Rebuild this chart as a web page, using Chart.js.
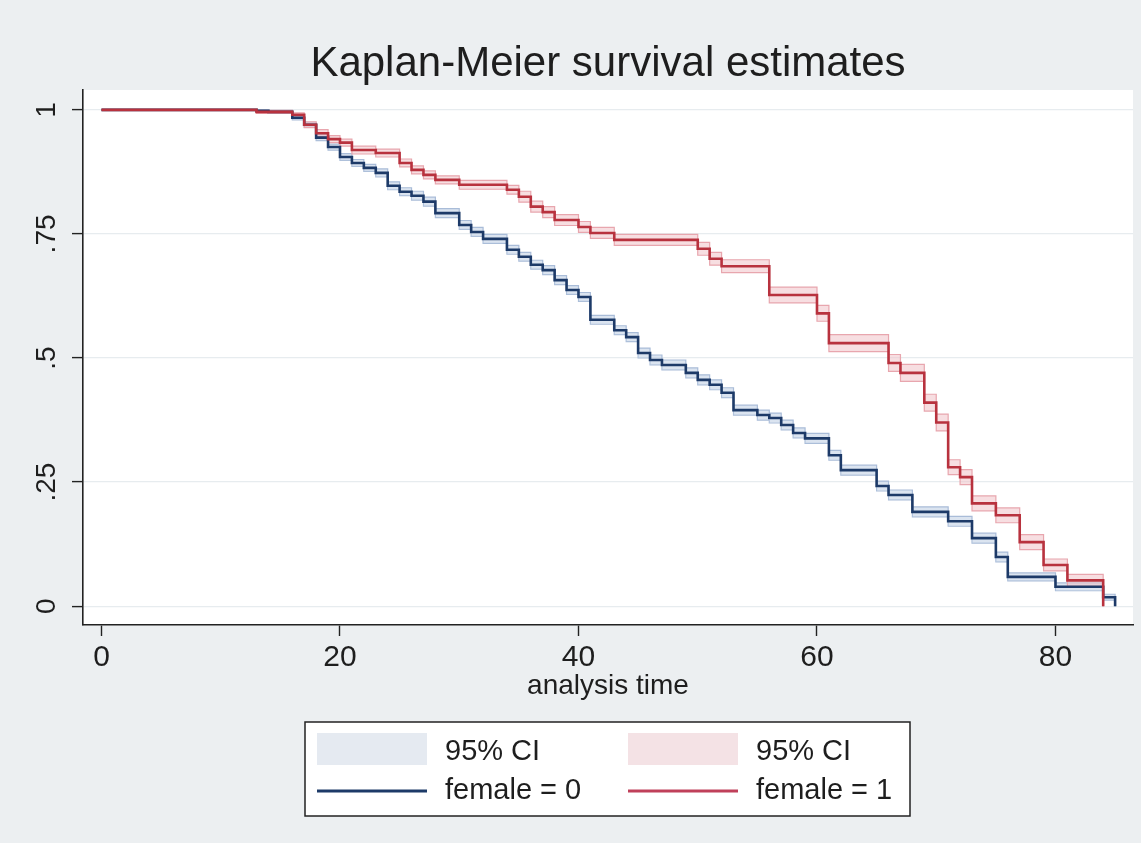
<!DOCTYPE html>
<html>
<head>
<meta charset="utf-8">
<title>Kaplan-Meier survival estimates</title>
<script src="https://cdn.jsdelivr.net/npm/chart.js@4.4.1/dist/chart.umd.min.js"></script>
<style>
  html, body { margin: 0; padding: 0; background: #eceff1; }
  #wrap { width: 1141px; height: 843px; }
</style>
</head>
<body>
<div id="wrap"><canvas id="myChart" width="1141" height="843"></canvas></div>
<script>
// female = 0 : step times, survival and 95% CI
const maleTimes = [0, 13, 14, 16, 17, 18, 19, 20, 21, 22, 23, 24, 25, 26, 27, 28, 30, 31, 32, 34, 35, 36, 37, 38, 39, 40, 41, 43, 44, 45, 46, 47, 49, 50, 51, 52, 53, 55, 56, 57, 58, 59, 61, 62, 65, 66, 68, 71, 73, 75, 76, 80, 84, 85];
const maleSurv  = [1, .998, .996, .984, .970, .944, .925, .905, .893, .883, .873, .847, .835, .827, .815, .792, .768, .754, .740, .718, .704, .688, .677, .657, .637, .623, .577, .556, .542, .510, .496, .486, .470, .456, .446, .430, .395, .385, .379, .365, .349, .338, .304, .274, .242, .224, .190, .171, .137, .099, .059, .039, .018, 0];
const maleLo    = [1, .996, .993, .980, .965, .938, .919, .898, .886, .876, .865, .839, .827, .818, .806, .783, .759, .745, .731, .709, .695, .679, .668, .648, .628, .614, .568, .547, .533, .500, .486, .476, .460, .446, .436, .420, .385, .375, .369, .355, .339, .328, .294, .264, .232, .214, .180, .161, .127, .089, .051, .031, .012, 0];
const maleHi    = [1, 1, .999, .988, .975, .950, .931, .912, .900, .890, .881, .855, .843, .836, .824, .801, .777, .763, .749, .727, .713, .697, .686, .666, .646, .632, .586, .565, .551, .520, .506, .496, .480, .466, .456, .440, .405, .395, .389, .375, .359, .348, .314, .284, .252, .234, .200, .181, .147, .109, .067, .047, .024, 0];

// female = 1
const femTimes = [0, 13, 16, 17, 18, 19, 20, 21, 23, 25, 26, 27, 28, 30, 34, 35, 36, 37, 38, 40, 41, 43, 50, 51, 52, 56, 60, 61, 66, 67, 69, 70, 71, 72, 73, 75, 77, 79, 81, 84];
const femSurv  = [1, .996, .990, .970, .953, .941, .934, .919, .913, .893, .879, .869, .859, .849, .839, .825, .805, .794, .778, .764, .752, .738, .720, .700, .685, .627, .590, .530, .490, .470, .410, .370, .280, .260, .207, .183, .129, .083, .052, 0];
const femLo    = [1, .993, .986, .964, .946, .934, .927, .911, .905, .885, .871, .861, .851, .840, .830, .814, .794, .783, .767, .753, .741, .727, .707, .687, .672, .611, .574, .513, .473, .453, .393, .353, .265, .245, .192, .168, .114, .071, .040, 0];
const femHi    = [1, .999, .994, .976, .960, .948, .941, .927, .921, .901, .887, .877, .867, .858, .848, .836, .816, .805, .789, .775, .763, .749, .733, .713, .698, .643, .606, .547, .507, .487, .427, .387, .295, .275, .222, .198, .144, .095, .064, 0];

const xTicks = [0, 20, 40, 60, 80];
const yTicks = [0, .25, .5, .75, 1];
const yLabels = ['0', '.25', '.5', '.75', '1'];

const BLUE = '#1d3a68';
const RED = '#b8323e';

function pts(times, vals) {
  return times.map(function (t, i) { return { x: t, y: vals[i] }; });
}

const textFont = '"Liberation Sans", Arial, Helvetica, sans-serif';

// background, title, rotated y labels, axis title and legend box
const decorations = {
  id: 'decorations',
  beforeDraw: function (chart) {
    const ctx = chart.ctx;
    const a = chart.chartArea;
    ctx.save();
    ctx.fillStyle = '#eceff1';
    ctx.fillRect(0, 0, chart.width, chart.height);
    ctx.fillStyle = '#ffffff';
    ctx.fillRect(a.left, a.top, a.right - a.left, a.bottom - a.top);
    ctx.restore();
  },
  afterDraw: function (chart) {
    const ctx = chart.ctx;
    const a = chart.chartArea;
    const ys = chart.scales.y;
    const cx = (a.left + a.right) / 2;
    ctx.save();
    ctx.fillStyle = '#1e1e1e';
    ctx.textAlign = 'center';
    ctx.textBaseline = 'middle';
    ctx.font = '42px ' + textFont;
    ctx.fillText('Kaplan-Meier survival estimates', cx, 64);

    ctx.font = '28px ' + textFont;
    ctx.fillText('analysis time', cx, 686);

    ctx.font = '28px ' + textFont;
    for (var i = 0; i < yTicks.length; i++) {
      ctx.save();
      ctx.translate(47, ys.getPixelForValue(yTicks[i]));
      ctx.rotate(-Math.PI / 2);
      ctx.fillText(yLabels[i], 0, 0);
      ctx.restore();
    }

    // legend
    const bx = 305, by = 722, bw = 605, bh = 94;
    ctx.fillStyle = '#ffffff';
    ctx.fillRect(bx, by, bw, bh);
    ctx.strokeStyle = '#222';
    ctx.lineWidth = 1.5;
    ctx.strokeRect(bx, by, bw, bh);

    const ds = chart.data.datasets;
    ctx.fillStyle = '#e5eaf1';
    ctx.fillRect(317, 733, 110, 32);
    ctx.fillStyle = '#f4e2e5';
    ctx.fillRect(628, 733, 110, 32);

    ctx.lineWidth = 3;
    ctx.strokeStyle = ds[4].borderColor;
    ctx.beginPath(); ctx.moveTo(317, 791); ctx.lineTo(427, 791); ctx.stroke();
    ctx.strokeStyle = '#c0405a';
    ctx.beginPath(); ctx.moveTo(628, 791); ctx.lineTo(738, 791); ctx.stroke();

    ctx.fillStyle = '#1e1e1e';
    ctx.textAlign = 'left';
    ctx.font = '29px ' + textFont;
    ctx.fillText('95% CI', 445, 752);
    ctx.fillText('95% CI', 756, 752);
    ctx.fillText('female = 0', 445, 791);
    ctx.fillText('female = 1', 756, 791);
    ctx.restore();
  }
};

function createChart() {
  var ctx = document.getElementById('myChart').getContext('2d');
  new Chart(ctx, {
    type: 'line',
    data: {
      datasets: [
        { label: 'ci0 lo', data: pts(maleTimes, maleLo), borderColor: '#a9bcd8', borderWidth: 1.2, fill: false, order: 4 },
        { label: 'ci0 hi', data: pts(maleTimes, maleHi), borderColor: '#a9bcd8', borderWidth: 1.2, fill: '-1', backgroundColor: 'rgba(190,205,228,0.55)', order: 3 },
        { label: 'ci1 lo', data: pts(femTimes, femLo), borderColor: '#e8a6ae', borderWidth: 1.2, fill: false, order: 2 },
        { label: 'ci1 hi', data: pts(femTimes, femHi), borderColor: '#e8a6ae', borderWidth: 1.2, fill: '-1', backgroundColor: 'rgba(240,195,201,0.55)', order: 2 },
        { label: 'female = 0', data: pts(maleTimes, maleSurv), borderColor: BLUE, borderWidth: 2.6, fill: false, order: 1 },
        { label: 'female = 1', data: pts(femTimes, femSurv), borderColor: RED, borderWidth: 2.6, fill: false, order: 0 }
      ]
    },
    options: {
      responsive: false,
      animation: false,
      elements: {
        point: { radius: 0 },
        line: { stepped: true, tension: 0 }
      },
      layout: { padding: { top: 90, right: 8, bottom: 0, left: 0 } },
      plugins: {
        legend: { display: false },
        title: { display: false },
        tooltip: { enabled: false }
      },
      scales: {
        x: {
          type: 'linear',
          min: -1.55,
          max: 86.5,
          afterFit: function (scale) { scale.height = 218; },
          afterBuildTicks: function (scale) {
            scale.ticks = xTicks.map(function (v) { return { value: v }; });
          },
          border: { display: true, color: '#222', width: 1.6 },
          grid: { drawOnChartArea: false, drawTicks: true, tickLength: 11, tickColor: '#222', tickWidth: 1.4 },
          ticks: {
            color: '#1e1e1e',
            padding: 4,
            maxRotation: 0,
            font: { family: textFont, size: 30 }
          }
        },
        y: {
          min: -0.038,
          max: 1.04,
          afterFit: function (scale) { scale.width = 83; },
          afterBuildTicks: function (scale) {
            scale.ticks = yTicks.map(function (v) { return { value: v }; });
          },
          border: { display: true, color: '#222', width: 1.6 },
          grid: { color: '#e7ecef', lineWidth: 1.2, drawTicks: true, tickLength: 11, tickColor: '#222', tickWidth: 1.4 },
          ticks: { display: false }
        }
      }
    },
    plugins: [decorations]
  });
}
createChart();
</script>
</body>
</html>
